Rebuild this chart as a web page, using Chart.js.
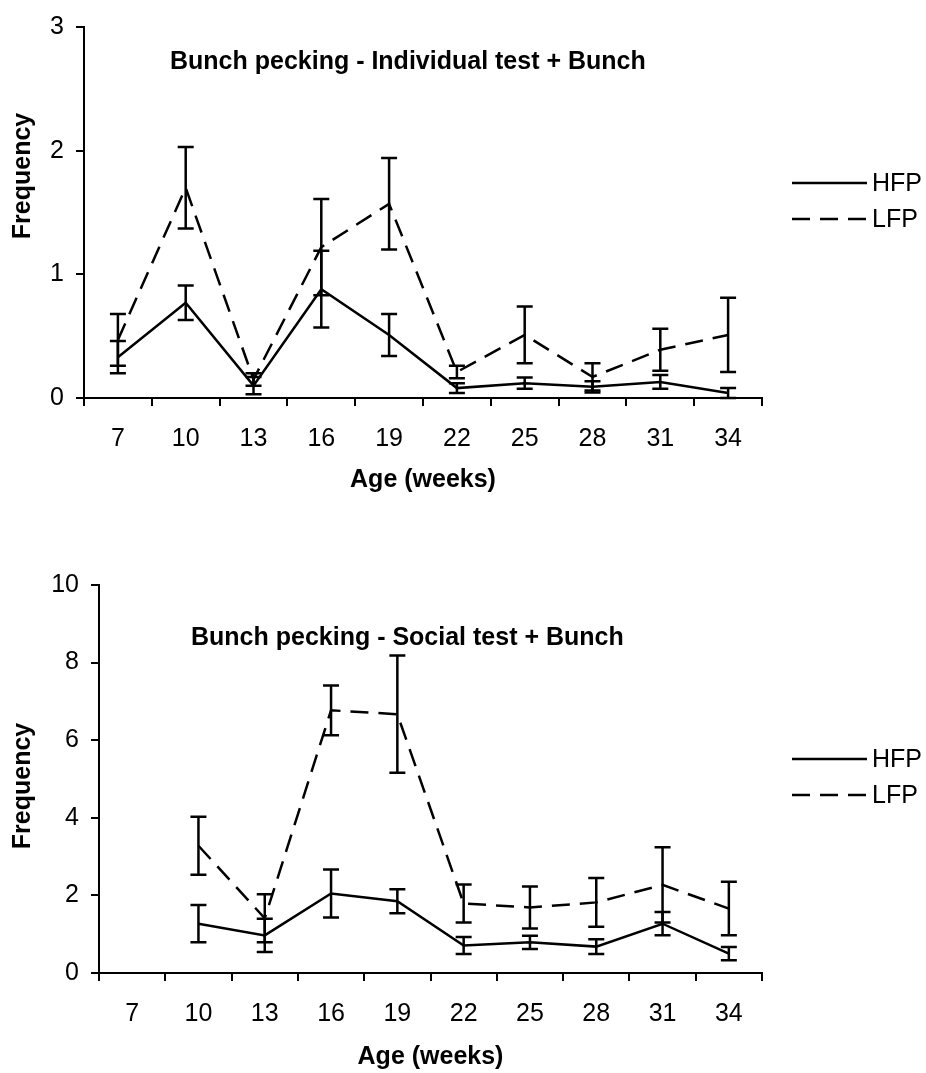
<!DOCTYPE html>
<html>
<head>
<meta charset="utf-8">
<title>Bunch pecking</title>
<script src="https://cdn.jsdelivr.net/npm/chart.js@4.4.1/dist/chart.umd.min.js"></script>
<style>
  html, body { margin: 0; padding: 0; background: #fff; }
  #wrap { position: relative; width: 926px; height: 1073px; }
  canvas { position: absolute; left: 0; }
</style>
</head>
<body>
<div id="wrap">
  <canvas id="indChart" width="926" height="520" style="top:0"></canvas>
  <canvas id="socChart" width="926" height="553" style="top:520px"></canvas>
</div>
<script>
// Age of the birds at each test (weeks)
const ages = ['7', '10', '13', '16', '19', '22', '25', '28', '31', '34'];

// Individual test + Bunch: mean frequency and SE per line
const indHFP    = [0.33, 0.77, 0.10, 0.88, 0.51, 0.08, 0.12, 0.09, 0.13, 0.04];
const indHFPErr = [0.13, 0.14, 0.07, 0.31, 0.17, 0.04, 0.045, 0.045, 0.055, 0.04];
const indLFP    = [0.47, 1.70, 0.15, 1.22, 1.57, 0.21, 0.51, 0.17, 0.39, 0.51];
const indLFPErr = [0.21, 0.33, 0.05, 0.39, 0.37, 0.05, 0.23, 0.11, 0.17, 0.30];

// Social test + Bunch (no test at 7 weeks)
const socHFP    = [null, 1.27, 0.97, 2.05, 1.85, 0.71, 0.79, 0.68, 1.27, 0.50];
const socHFPErr = [null, 0.48, 0.43, 0.62, 0.31, 0.22, 0.17, 0.19, 0.30, 0.17];
const socLFP    = [null, 3.28, 1.41, 6.77, 6.67, 1.79, 1.69, 1.82, 2.27, 1.66];
const socLFPErr = [null, 0.75, 0.62, 0.64, 1.51, 0.49, 0.54, 0.63, 0.97, 0.69];

// Frequency axis ranges
const indYMax = 3,  indYStep = 1;
const socYMax = 10, socYStep = 2;

const FONT = '"Liberation Sans", Arial, Helvetica, sans-serif';
const INK = '#000';
const DASH = [18, 10];

// Error bars, panel heading, rotated y title and a line-sample legend
const decor = {
  id: 'decor',
  afterDatasetsDraw(chart) {
    const ctx = chart.ctx, y = chart.scales.y;
    ctx.save();
    ctx.strokeStyle = INK;
    ctx.lineWidth = 2.5;
    ctx.setLineDash([]);
    chart.data.datasets.forEach((ds, di) => {
      const meta = chart.getDatasetMeta(di);
      ds.data.forEach((v, i) => {
        const e = ds.errors[i];
        if (v == null || e == null) return;
        const x = meta.data[i].x;
        const top = y.getPixelForValue(v + e);
        const bot = y.getPixelForValue(Math.max(0, v - e));
        ctx.beginPath();
        ctx.moveTo(x, top); ctx.lineTo(x, bot);
        ctx.moveTo(x - 8, top); ctx.lineTo(x + 8, top);
        ctx.moveTo(x - 8, bot); ctx.lineTo(x + 8, bot);
        ctx.stroke();
      });
    });
    ctx.restore();
  },
  afterDraw(chart, args, o) {
    const ctx = chart.ctx;
    ctx.save();
    ctx.fillStyle = INK;
    // heading
    ctx.font = 'bold 25px ' + FONT;
    ctx.textAlign = 'left';
    ctx.textBaseline = 'middle';
    ctx.fillText(o.heading, o.headingX, o.headingY);
    // y axis title
    ctx.save();
    ctx.translate(o.yTitleX, o.yTitleY);
    ctx.rotate(-Math.PI / 2);
    ctx.textAlign = 'center';
    ctx.fillText('Frequency', 0, 0);
    ctx.restore();
    // legend
    ctx.font = '25px ' + FONT;
    ctx.textAlign = 'left';
    chart.data.datasets.forEach((ds, i) => {
      const ly = o.legendY[i];
      ctx.strokeStyle = INK;
      ctx.lineWidth = 2.5;
      ctx.setLineDash(ds.borderDash || []);
      ctx.beginPath();
      ctx.moveTo(792, ly);
      ctx.lineTo(867, ly);
      ctx.stroke();
      ctx.setLineDash([]);
      ctx.fillText(ds.label, 872, ly + 1);
    });
    ctx.restore();
  }
};

function buildChart(id, cfg) {
  const canvasH = document.getElementById(id).height;
  const xScaleH = cfg.xTitleY + 15 - cfg.plotBottom;
  return new Chart(document.getElementById(id), {
    type: 'line',
    data: {
      labels: ages,
      datasets: [
        { label: 'HFP', data: cfg.hfp, errors: cfg.hfpErr, borderColor: INK, borderWidth: 2.5,
          pointRadius: 0, tension: 0, fill: false },
        { label: 'LFP', data: cfg.lfp, errors: cfg.lfpErr, borderColor: INK, borderWidth: 2.5,
          borderDash: DASH, pointRadius: 0, tension: 0, fill: false }
      ]
    },
    options: {
      responsive: false,
      animation: false,
      devicePixelRatio: 1,
      layout: { padding: { top: cfg.plotTop, right: 926 - 762, bottom: canvasH - cfg.plotBottom - xScaleH, left: 0 } },
      plugins: {
        legend: { display: false },
        tooltip: { enabled: false },
        decor: {
          heading: cfg.heading, headingX: cfg.headingX, headingY: cfg.headingY,
          yTitleX: 23, yTitleY: cfg.yTitleY, legendY: cfg.legendY
        }
      },
      scales: {
        x: {
          type: 'category',
          offset: true,
          grid: { offset: true, drawOnChartArea: false, drawTicks: true, tickLength: 8, color: INK, lineWidth: 2 },
          border: { display: true, color: INK, width: 2 },
          ticks: { color: INK, font: { family: FONT, size: 25 }, padding: 18, maxRotation: 0, autoSkip: false },
          title: { display: true, text: 'Age (weeks)', color: INK, font: { family: FONT, size: 25, weight: 'bold' },
                   padding: { top: 0, bottom: 0 } },
          afterFit(s) { s.height = xScaleH; }
        },
        y: {
          min: 0, max: cfg.yMax,
          grid: { drawOnChartArea: false, drawTicks: true, tickLength: 8, color: INK, lineWidth: 2 },
          border: { display: true, color: INK, width: 2 },
          ticks: { stepSize: cfg.yStep, color: INK, font: { family: FONT, size: 25 }, padding: 12 },
          afterFit(s) { s.width = cfg.plotLeft; }
        }
      }
    },
    plugins: [decor]
  });
}

Chart.defaults.font.family = FONT;

buildChart('indChart', {
  hfp: indHFP, hfpErr: indHFPErr, lfp: indLFP, lfpErr: indLFPErr,
  yMax: indYMax, yStep: indYStep,
  plotLeft: 84, plotTop: 18, plotBottom: 398, xTitleY: 480,
  heading: 'Bunch pecking - Individual test + Bunch', headingX: 170, headingY: 62,
  yTitleY: 176, legendY: [183, 219]
});

buildChart('socChart', {
  hfp: socHFP, hfpErr: socHFPErr, lfp: socLFP, lfpErr: socLFPErr,
  yMax: socYMax, yStep: socYStep,
  plotLeft: 99, plotTop: 65, plotBottom: 453, xTitleY: 537,
  heading: 'Bunch pecking - Social test + Bunch', headingX: 191, headingY: 118,
  yTitleY: 266, legendY: [239, 275]
});
</script>
</body>
</html>
